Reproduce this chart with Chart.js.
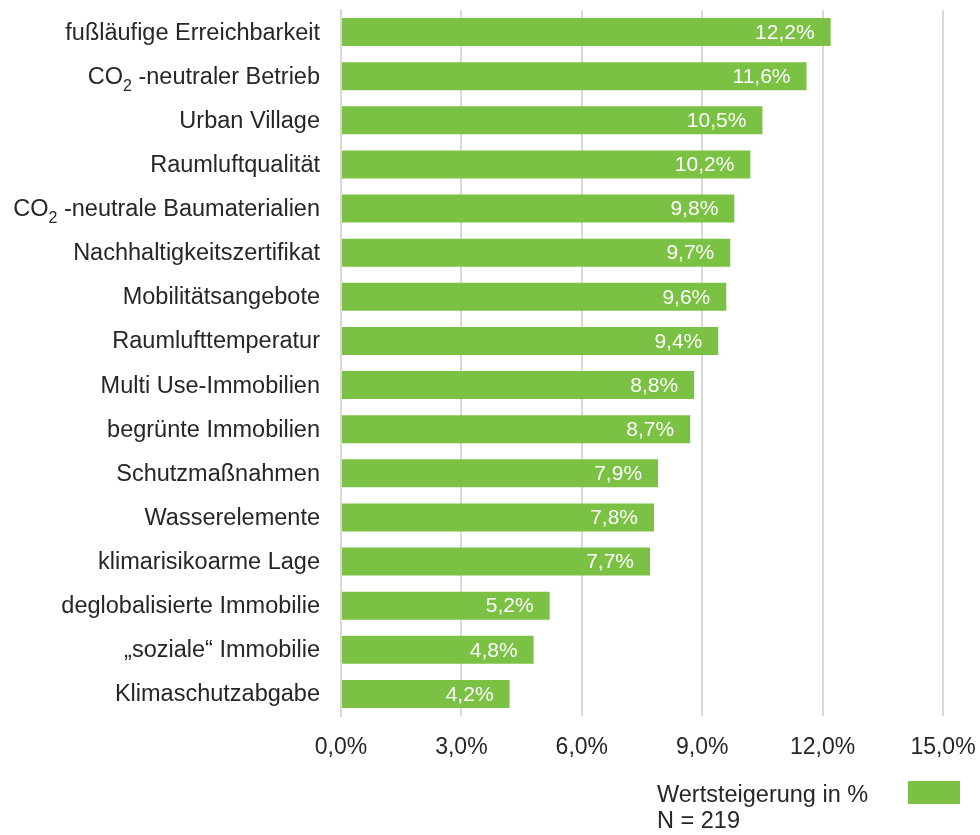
<!DOCTYPE html>
<html lang="de">
<head>
<meta charset="utf-8">
<title>Wertsteigerung in %</title>
<script src="https://cdn.jsdelivr.net/npm/chart.js@4/dist/chart.umd.min.js"></script>
<style>
  html, body { margin: 0; padding: 0; background: #fff; }
  body { width: 980px; height: 835px; position: relative; overflow: hidden; font-family: 'Liberation Sans', Arial, sans-serif; }
  #wrap { position: absolute; left: 0; top: 0; width: 980px; height: 835px; }
  .legend { position: absolute; left: 657px; top: 781px; color: #262626; font-size: 23.5px; line-height: 26px; white-space: nowrap; }
  .legend .box { position: absolute; left: 251px; top: 0; width: 52px; height: 23px; background: #7bc143; }
</style>
</head>
<body>
<div id="wrap"><canvas id="chart" width="980" height="835"></canvas></div>
<div class="legend">
  <div>Wertsteigerung in %</div>
  <div>N = 219</div>
  <span class="box"></span>
</div>
<script>
(function() {
  'use strict';

  // "\u2082" marks a subscript two, drawn smaller and lowered
  var categories = [
    'fußläufige Erreichbarkeit',
    'CO\u2082 -neutraler Betrieb',
    'Urban Village',
    'Raumluftqualität',
    'CO\u2082 -neutrale Baumaterialien',
    'Nachhaltigkeitszertifikat',
    'Mobilitätsangebote',
    'Raumlufttemperatur',
    'Multi Use-Immobilien',
    'begrünte Immobilien',
    'Schutzmaßnahmen',
    'Wasserelemente',
    'klimarisikoarme Lage',
    'deglobalisierte Immobilie',
    '\u201Esoziale\u201C Immobilie',
    'Klimaschutzabgabe'
  ];
  var values = [12.2, 11.6, 10.5, 10.2, 9.8, 9.7, 9.6, 9.4, 8.8, 8.7, 7.9, 7.8, 7.7, 5.2, 4.8, 4.2];
  var xTicks = [0, 3, 6, 9, 12, 15];

  var green = '#7bc143';
  var textColor = '#262626';
  var font = "'Liberation Sans', Arial, sans-serif";
  var labelSize = 23.5;
  var subSize = 16;

  function pct(v) {
    return v.toFixed(1).replace('.', ',') + '%';
  }

  // category names, right aligned left of the axis, with subscript support
  var categoryLabels = {
    id: 'categoryLabels',
    afterDraw: function(chart) {
      var ctx = chart.ctx;
      var yScale = chart.scales.y;
      var right = chart.chartArea.left - 21;
      ctx.save();
      ctx.fillStyle = textColor;
      ctx.textBaseline = 'middle';
      ctx.textAlign = 'left';
      categories.forEach(function(label, i) {
        var y = yScale.getPixelForTick(i) + 1;
        var parts = label.split('\u2082');
        var pieces = [];
        parts.forEach(function(p, k) {
          if (k > 0) pieces.push({ text: '2', size: subSize, dy: 9 });
          if (p) pieces.push({ text: p, size: labelSize, dy: 0 });
        });
        var total = 0;
        pieces.forEach(function(p) {
          ctx.font = p.size + 'px ' + font;
          p.w = ctx.measureText(p.text).width;
          total += p.w;
        });
        var x = right - total;
        pieces.forEach(function(p) {
          ctx.font = p.size + 'px ' + font;
          ctx.fillText(p.text, x, y + p.dy);
          x += p.w;
        });
      });
      ctx.restore();
    }
  };

  // white value text placed at the inner end of each bar
  var valueLabels = {
    id: 'valueLabels',
    afterDatasetsDraw: function(chart) {
      var ctx = chart.ctx;
      var meta = chart.getDatasetMeta(0);
      ctx.save();
      ctx.fillStyle = '#ffffff';
      ctx.font = '21px ' + font;
      ctx.textAlign = 'right';
      ctx.textBaseline = 'middle';
      meta.data.forEach(function(bar, i) {
        ctx.fillText(pct(values[i]), bar.x - 16, bar.y + 1);
      });
      ctx.restore();
    }
  };

  new Chart(document.getElementById('chart'), {
    type: 'bar',
    data: {
      labels: categories,
      datasets: [{
        label: 'Wertsteigerung in %',
        data: values,
        backgroundColor: green,
        borderWidth: 0,
        barPercentage: 1,
        categoryPercentage: 0.635
      }]
    },
    options: {
      indexAxis: 'y',
      responsive: false,
      animation: false,
      layout: { padding: { top: 10, right: 37, left: 0, bottom: 0 } },
      plugins: { legend: { display: false }, tooltip: { enabled: false } },
      scales: {
        x: {
          min: 0,
          max: 15,
          afterBuildTicks: function(scale) {
            scale.ticks = xTicks.map(function(v) { return { value: v }; });
          },
          afterFit: function(scale) {
            scale.height = 119;
            scale.paddingLeft = 0;
            scale.paddingRight = 0;
          },
          grid: { color: '#d9d9d9', lineWidth: 2, drawTicks: false },
          border: { display: false },
          ticks: {
            padding: 18,
            color: textColor,
            font: { family: font, size: 23 },
            callback: function(v) { return pct(v); }
          }
        },
        y: {
          afterFit: function(scale) {
            scale.width = 341;
            scale.paddingTop = 0;
            scale.paddingBottom = 0;
          },
          grid: { display: false, drawTicks: false },
          border: { display: true, color: '#d9d9d9', width: 2 },
          ticks: { display: false }
        }
      }
    },
    plugins: [valueLabels, categoryLabels]
  });
})();
</script>
</body>
</html>
